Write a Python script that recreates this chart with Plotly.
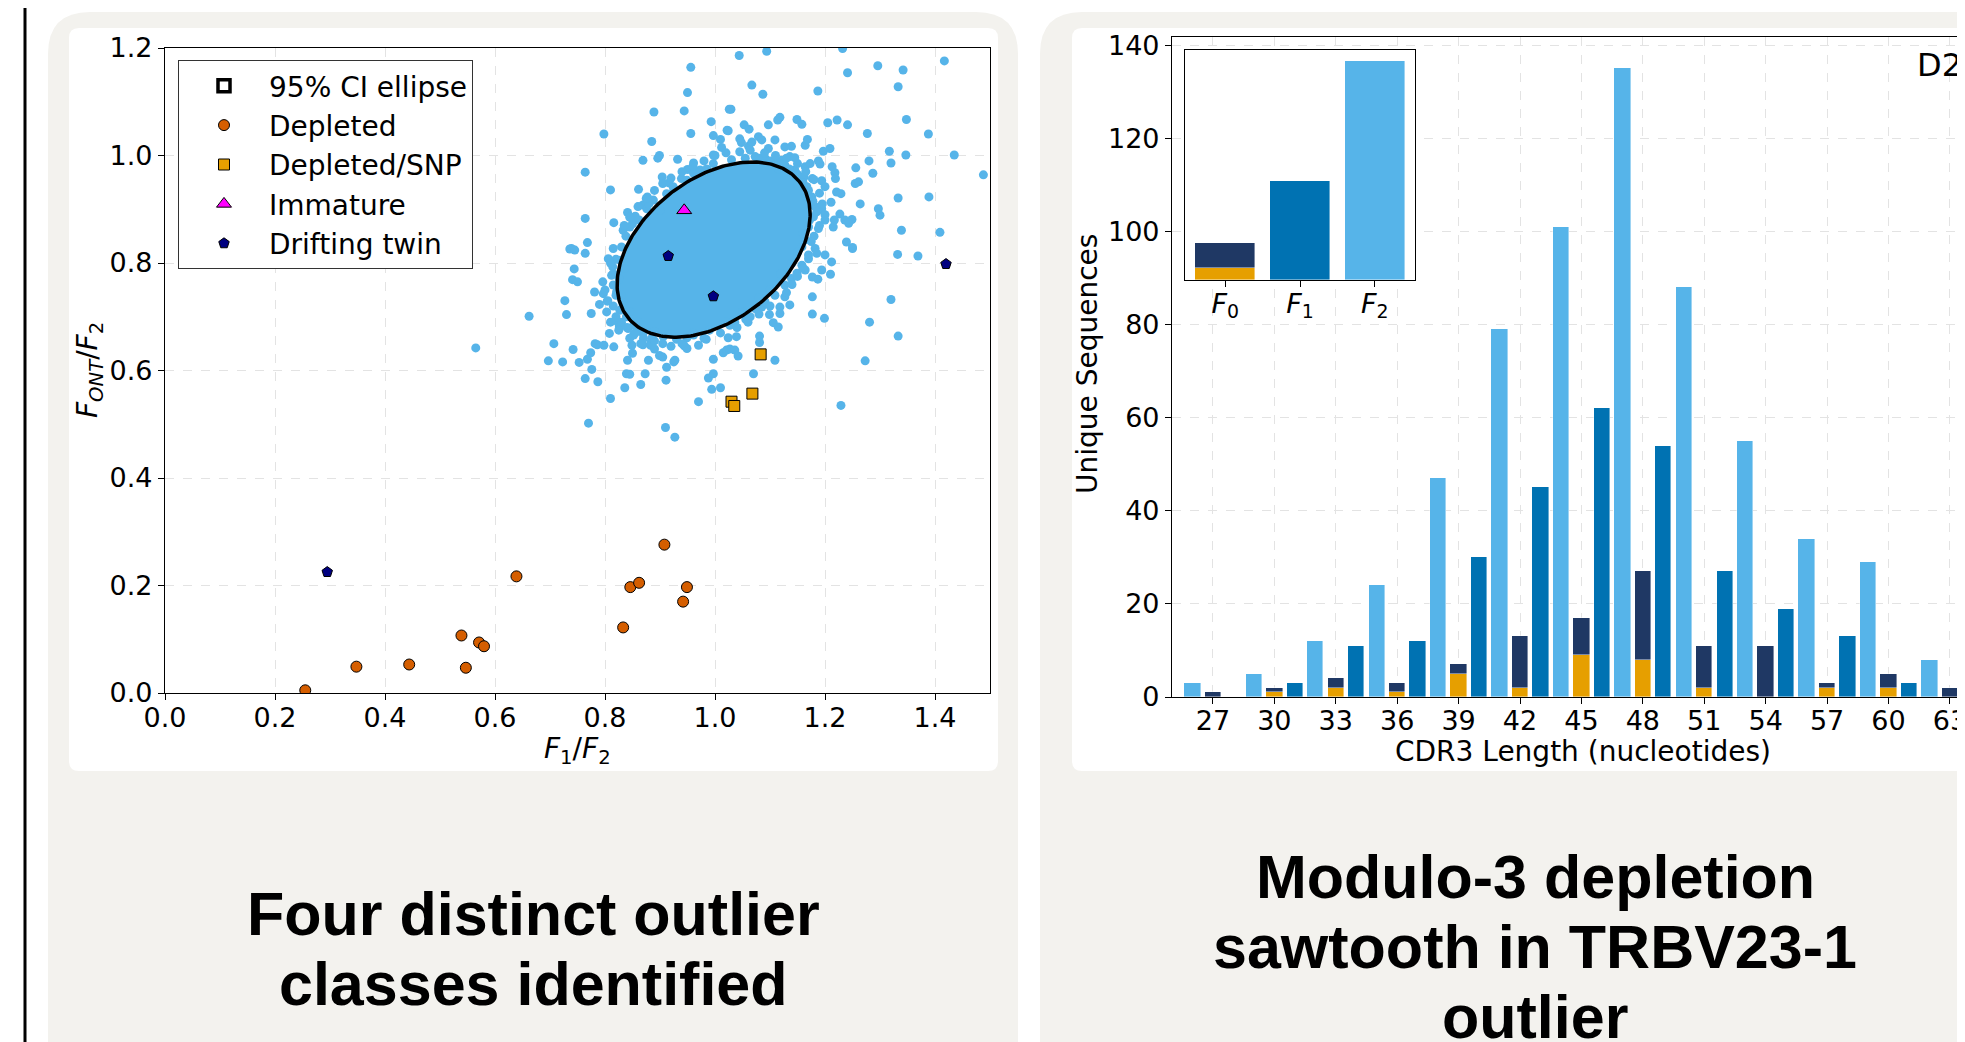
import numpy as np
import plotly.graph_objects as go

W, H = 1965, 1042
OFF = 8  # page body margin of the html page

# ---------------- Scatter data ----------------
cloud_pts = [
    (0.956,1.164),(0.950,1.117),(0.889,1.081),(0.944,1.083),(0.956,1.041),(0.798,1.040),(0.885,1.026),(0.993,1.063),
    (0.997,1.037),(1.010,1.030),(1.012,1.015),(1.026,1.086),(1.022,1.047),(0.869,0.991),(0.899,1.000),(0.896,0.995),
    (0.932,0.993),(0.961,0.986),(0.950,0.974),(0.764,0.969),(0.904,0.960),(0.916,0.949),(0.939,0.957),(0.997,1.001),
    (0.810,0.936),(0.861,0.937),(0.877,0.923),(0.764,0.883),(0.816,0.875),(0.841,0.894),(0.768,0.838),(0.833,0.861),
    (0.739,0.827),(0.855,0.887),(0.869,0.908),(0.888,0.917),(0.900,0.898),(0.845,0.867),(0.876,0.901),(0.912,0.929),
    (0.924,0.942),(0.949,0.954),(0.961,0.967),(0.973,0.973),(0.997,0.985),
    (1.044,1.186),(1.094,1.194),(1.232,1.199),(1.067,1.131),(1.087,1.114),(1.187,1.120),(1.241,1.154),(1.296,1.167),
    (1.342,1.159),(1.333,1.128),(1.417,1.176),(1.029,1.086),(1.024,1.046),(1.053,1.057),(1.062,1.049),(1.097,1.057),
    (1.114,1.066),(1.118,1.071),(1.149,1.067),(1.158,1.058),(1.205,1.061),(1.222,1.066),(1.241,1.057),(1.348,1.067),
    (1.277,1.041),(1.388,1.040),(1.045,1.031),(1.048,1.024),(1.061,1.017),(1.067,1.025),(1.079,1.035),(1.085,1.029),
    (1.045,1.007),(1.064,1.010),(1.097,1.013),(1.109,1.029),(1.127,1.016),(1.139,1.017),(1.164,1.019),(1.168,1.030),
    (1.136,0.998),(1.145,0.996),(1.121,0.991),(1.197,1.008),(1.209,1.013),(1.317,1.008),(1.347,1.001),(1.435,1.001),
    (1.488,0.964),(1.164,0.979),(1.173,0.985),(1.188,0.990),(1.191,0.984),(1.213,0.979),(1.256,0.977),(1.280,0.990),
    (1.320,0.986),(1.287,0.967),(1.218,0.968),(1.219,0.957),(1.162,0.960),(1.177,0.957),(1.194,0.953),(1.200,0.942),
    (1.255,0.948),(1.261,0.951),(1.221,0.932),(1.229,0.929),(1.211,0.913),(1.264,0.910),(1.333,0.921),(1.389,0.923),
    (1.297,0.901),(1.300,0.889),(1.194,0.901),(1.227,0.891),(1.200,0.880),(1.217,0.880),(1.236,0.880),(1.249,0.881),
    (1.243,0.874),(1.188,0.864),(1.215,0.867),(1.339,0.861),(1.409,0.857),(1.239,0.839),(1.250,0.829),(1.182,0.827),
    (1.176,0.923),(1.182,0.905),(1.179,0.886),(1.170,0.867),(1.164,0.843),(1.158,0.830),(1.167,0.942),(1.158,0.960),
    (1.145,0.973),(1.127,0.982),(1.109,0.988),(1.091,0.995),(1.073,0.998),(1.055,0.995),
    (0.736,0.826),(0.745,0.824),(0.764,0.818),(0.815,0.827),(0.806,0.808),(0.820,0.807),(0.814,0.793),(0.744,0.789),
    (0.741,0.769),(0.750,0.765),(0.796,0.765),(0.781,0.746),(0.797,0.743),(0.790,0.723),(0.804,0.729),(0.803,0.709),
    (0.775,0.706),(0.730,0.704),(0.727,0.730),(0.662,0.701),(0.565,0.642),(0.707,0.650),(0.742,0.639),(0.697,0.618),
    (0.723,0.616),(0.753,0.615),(0.768,0.621),(0.774,0.633),(0.782,0.650),(0.786,0.648),(0.798,0.647),(0.816,0.644),
    (0.808,0.669),(0.824,0.689),(0.826,0.681),(0.776,0.602),(0.764,0.585),(0.787,0.579),(0.810,0.548),(0.770,0.502),
    (0.841,0.619),(0.850,0.632),(0.849,0.647),(0.869,0.648),(0.884,0.653),(0.883,0.647),(0.879,0.619),(0.873,0.594),
    (0.839,0.594),(0.845,0.593),(0.836,0.568),(0.865,0.574),(0.899,0.628),(0.905,0.625),(0.912,0.606),(0.925,0.616),
    (0.927,0.619),(0.911,0.582),(0.910,0.494),(0.927,0.476),(0.970,0.647),(0.984,0.658),(0.944,0.646),(0.949,0.641),
    (0.997,0.621),(0.988,0.586),(0.997,0.594),(0.994,0.565),(1.010,0.568),(1.015,0.633),(1.021,0.638),(0.970,0.542),
    (0.852,0.666),(0.869,0.669),(0.885,0.660),(0.906,0.663),(0.930,0.658),(0.949,0.661),(0.961,0.666),(0.827,0.712),
    (0.842,0.678),(0.821,0.746),(0.833,0.722),(0.839,0.700),(0.852,0.684),(0.864,0.675),(0.815,0.759),(0.812,0.777),
    (1.250,0.827),(1.332,0.816),(1.369,0.813),(1.212,0.802),(1.194,0.787),(1.210,0.779),(1.177,0.774),(1.187,0.770),
    (1.164,0.787),(1.149,0.781),(1.139,0.771),(1.170,0.808),(1.185,0.818),(1.200,0.815),(1.177,0.737),(1.177,0.705),
    (1.199,0.697),(1.136,0.722),(1.127,0.737),(1.118,0.718),(1.118,0.706),(1.099,0.704),(1.106,0.689),(1.115,0.681),
    (1.085,0.718),(1.064,0.700),(1.056,0.695),(1.320,0.732),(1.281,0.690),(1.333,0.664),(1.273,0.618),(1.229,0.535),
    (1.081,0.664),(1.081,0.652),(1.109,0.619),(1.039,0.663),(1.024,0.661),(1.027,0.640),(1.036,0.638),(1.042,0.627),
    (1.070,0.594),(1.027,0.684),(1.127,0.759),(1.109,0.740),(1.091,0.728),(1.073,0.715),(1.055,0.706),(1.036,0.690),
    (1.158,0.796),(1.170,0.815),
    (0.835,0.790),(0.828,0.805),(0.830,0.830),(0.838,0.850),(0.850,0.873),(0.862,0.880),(0.880,0.910),(0.925,0.935),
    (0.985,0.975),(1.030,0.992),(1.115,0.975),(1.150,0.945),(1.168,0.905),(1.172,0.880),(1.160,0.855),(1.150,0.820),
    (1.140,0.800),(1.120,0.780),(1.100,0.750),(1.080,0.735),(1.050,0.710),(1.020,0.690),(0.990,0.675),(0.960,0.670),
    (0.920,0.668),(0.890,0.672),(0.860,0.690),(0.845,0.710),(0.830,0.740),(0.826,0.770),
    (1.080,0.995),(1.100,0.990),(1.120,0.985),(1.135,0.975),(1.150,0.965),(1.160,0.950),(1.170,0.935),(1.178,0.915),
    (1.185,0.895),(1.190,0.870),(1.180,0.850),(1.175,0.840),(1.090,1.005),(1.110,1.000),(1.130,0.995),(1.150,0.985),
    (1.165,0.970),(1.180,0.955),(1.190,0.930),(1.195,0.910),(1.200,0.890),
    (0.820,0.740),(0.815,0.720),(0.820,0.700),(0.830,0.690),(0.840,0.680),(0.855,0.670),(0.870,0.660),(0.890,0.655),
    (0.905,0.650),(0.815,0.780),(0.810,0.800),(0.800,0.750),(0.805,0.730),(0.810,0.690),(0.825,0.675),(0.845,0.660),
    (0.865,0.650),(0.890,0.640),(0.920,0.645),(0.940,0.650),
    (0.860,0.905),(0.875,0.920),(0.890,0.935),(0.905,0.948),(0.920,0.958),(0.940,0.970),(0.960,0.980),(0.980,0.990),
    (1.000,1.000),(1.020,1.005),(0.845,0.885),(0.835,0.870),
    (1.130,0.745),(1.140,0.760),(1.150,0.775),(1.160,0.790),(1.100,0.720),(1.080,0.705),(1.060,0.690),(1.040,0.680),
    (1.010,0.670),(0.980,0.660),
]
cloud_x = [p[0] for p in cloud_pts]
cloud_y = [p[1] for p in cloud_pts]

depleted_x = [0.255, 0.348, 0.444, 0.539, 0.547, 0.571, 0.580, 0.639, 0.833, 0.846, 0.862, 0.908, 0.949, 0.942]
depleted_y = [0.005, 0.049, 0.053, 0.107, 0.047, 0.094, 0.087, 0.217, 0.122, 0.197, 0.205, 0.276, 0.197, 0.170]
snp_x = [1.083, 1.068, 1.030, 1.035]
snp_y = [0.630, 0.557, 0.542, 0.534]
immature_x = [0.944]
immature_y = [0.898]
twin_x = [0.295, 0.915, 0.997, 1.420]
twin_y = [0.225, 0.813, 0.738, 0.798]

# 95% CI ellipse parameters of the bulk distribution
ell_center = (0.9975, 0.825)
ell_sd = (0.0717, 0.0666)
ell_rho = 0.40
chi2_95 = 5.991

# ---------------- Bar data ----------------
cdr3_len = list(range(26, 64))
unique_seqs = [3, 1, 0, 5, 2, 3, 12, 4, 11, 24, 3, 12, 47, 7, 30, 79, 13, 45, 101, 17, 62, 135,
               27, 54, 88, 11, 27, 55, 11, 19, 34, 3, 13, 29, 5, 3, 8, 2]
f0_orange = {27: 0, 30: 1, 33: 2, 36: 1, 39: 5, 42: 2, 45: 9, 48: 8, 51: 2, 54: 0, 57: 2, 60: 2, 63: 0}
inset_labels = ["<i>F</i><sub>0</sub>", "<i>F</i><sub>1</sub>", "<i>F</i><sub>2</sub>"]
bar_ticks = list(range(27, 64, 3))

C_LIGHT = "#56B4E9"
C_MED = "#0072B2"
C_NAVY = "#1F3864"
C_ORANGE = "#E69F00"
FONT = "DejaVu Sans"
FS = 27

def px(x):
    return (x - OFF) / W

def py(y):
    return 1 - (y - OFF) / H

fig = go.Figure()

cov = np.array([[ell_sd[0]**2, ell_rho*ell_sd[0]*ell_sd[1]],
                [ell_rho*ell_sd[0]*ell_sd[1], ell_sd[1]**2]])
vals, vecs = np.linalg.eigh(cov)
t = np.linspace(0, 2*np.pi, 240)
circ = np.stack([np.cos(t), np.sin(t)])
pts = vecs @ (np.sqrt(vals*chi2_95)[:, None] * circ)
ex = ell_center[0] + pts[0]
ey = ell_center[1] + pts[1]
core = vecs @ (np.sqrt(vals*chi2_95*1.03)[:, None] * circ)

fig.add_trace(go.Scatter(x=ell_center[0]+core[0], y=ell_center[1]+core[1], mode="lines",
                         fill="toself", fillcolor=C_LIGHT, line=dict(width=0, color=C_LIGHT),
                         showlegend=False, hoverinfo="skip", xaxis="x", yaxis="y"))
fig.add_trace(go.Scatter(x=cloud_x, y=cloud_y, mode="markers",
                         marker=dict(size=9, color=C_LIGHT, line=dict(width=0)),
                         showlegend=False, xaxis="x", yaxis="y"))
fig.add_trace(go.Scatter(x=ex, y=ey, mode="lines", name="95% CI ellipse",
                         line=dict(color="black", width=3.5), showlegend=False,
                         xaxis="x", yaxis="y"))
fig.add_trace(go.Bar(x=[None], y=[None], name="95% CI ellipse",
                     marker=dict(color="white", line=dict(color="black", width=3.5)),
                     legendgroup="a", legendrank=1, xaxis="x", yaxis="y"))
mk_line = dict(color="black", width=1)
fig.add_trace(go.Scatter(x=depleted_x, y=depleted_y, mode="markers", name="Depleted",
                         marker=dict(symbol="circle", size=11, color="#D55E00", line=mk_line),
                         legendgroup="b", legendrank=2, xaxis="x", yaxis="y"))
fig.add_trace(go.Scatter(x=snp_x, y=snp_y, mode="markers", name="Depleted/SNP",
                         marker=dict(symbol="square", size=11, color=C_ORANGE, line=mk_line),
                         legendgroup="c", legendrank=3, xaxis="x", yaxis="y"))
fig.add_trace(go.Scatter(x=immature_x, y=immature_y, mode="markers", name="Immature",
                         marker=dict(symbol="triangle-up", size=13, color="#FF00FF", line=mk_line),
                         legendgroup="d", legendrank=4, xaxis="x", yaxis="y"))
fig.add_trace(go.Scatter(x=twin_x, y=twin_y, mode="markers", name="Drifting twin",
                         marker=dict(symbol="pentagon", size=11, color="#000080", line=mk_line),
                         legendgroup="e", legendrank=5, xaxis="x", yaxis="y"))

frame = [L % 3 for L in cdr3_len]
f2_x = [L for L, f in zip(cdr3_len, frame) if f == 2]
f2_y = [v for v, f in zip(unique_seqs, frame) if f == 2]
f1_x = [L for L, f in zip(cdr3_len, frame) if f == 1]
f1_y = [v for v, f in zip(unique_seqs, frame) if f == 1]
f0_x = [L for L, f in zip(cdr3_len, frame) if f == 0]
f0_tot = [v for v, f in zip(unique_seqs, frame) if f == 0]
f0_or = [f0_orange[L] for L in f0_x]
f0_rest = [a - b for a, b in zip(f0_tot, f0_or)]

bl = dict(color="rgba(255,255,255,0.7)", width=0.6)
fig.add_trace(go.Bar(x=f2_x, y=f2_y, width=0.8, marker=dict(color=C_LIGHT, line=bl),
                     showlegend=False, xaxis="x2", yaxis="y2"))
fig.add_trace(go.Bar(x=f1_x, y=f1_y, width=0.8, marker=dict(color=C_MED, line=bl),
                     showlegend=False, xaxis="x2", yaxis="y2"))
fig.add_trace(go.Bar(x=f0_x, y=f0_or, width=0.8, marker=dict(color=C_ORANGE, line=bl),
                     showlegend=False, xaxis="x2", yaxis="y2"))
fig.add_trace(go.Bar(x=f0_x, y=f0_rest, width=0.8, marker=dict(color=C_NAVY, line=bl),
                     showlegend=False, xaxis="x2", yaxis="y2"))

tot_f0 = sum(f0_tot)
tot_or = sum(f0_or)
tot_f1 = sum(f1_y)
tot_f2 = sum(f2_y)
fig.add_trace(go.Bar(x=[0], y=[tot_or], width=0.8, marker=dict(color=C_ORANGE, line=bl),
                     showlegend=False, xaxis="x3", yaxis="y3"))
fig.add_trace(go.Bar(x=[0, 1, 2], y=[tot_f0 - tot_or, tot_f1, tot_f2], width=0.8,
                     marker=dict(color=[C_NAVY, C_MED, C_LIGHT], line=bl),
                     showlegend=False, xaxis="x3", yaxis="y3"))

axis_common = dict(showline=True, linecolor="black", linewidth=1.2, ticks="outside",
                   ticklen=6, tickwidth=1.2, tickcolor="black", automargin=False,
                   tickfont=dict(family=FONT, size=FS, color="black"), zeroline=False)
grid = dict(gridcolor="#e3e3e3", griddash="dash", gridwidth=1, showgrid=True)

fig.update_layout(
    width=W, height=H, margin=dict(l=0, r=0, t=0, b=0, autoexpand=False),
    paper_bgcolor="white", plot_bgcolor="white",
    barmode="stack", bargap=0,
    font=dict(family=FONT, color="black"),
    xaxis=dict(domain=[px(165), px(990)], range=[0, 1.5], tickvals=[0, 0.2, 0.4, 0.6, 0.8, 1.0, 1.2, 1.4],
               tickformat=".1f", mirror=True, anchor="y", ticklabelstandoff=-6, **axis_common, **grid),
    yaxis=dict(domain=[py(693), py(48)], range=[0, 1.2], tickvals=[0, 0.2, 0.4, 0.6, 0.8, 1.0, 1.2],
               tickformat=".1f", mirror=True, anchor="x", **axis_common, **grid),
    xaxis2=dict(domain=[px(1172), px(1972)], range=[25.0, 64.08], tickvals=bar_ticks, mirror=True,
                ticklabeloverflow="allow", ticklabelstandoff=-7, anchor="y2", **axis_common, **grid),
    yaxis2=dict(domain=[py(697), py(37)], range=[0, 141.75], tickvals=list(range(0, 141, 20)),
                mirror=False, anchor="x2", **axis_common, **grid),
    xaxis3=dict(domain=[px(1185), px(1415)], range=[-0.54, 2.54], tickvals=[0, 1, 2],
                ticktext=inset_labels, mirror=True, showgrid=False, anchor="y3",
                ticklabelstandoff=-7, **axis_common),
    yaxis3=dict(domain=[py(280), py(50)], range=[0, 1.05*tot_f2], showticklabels=False, ticks="",
                showline=True, linecolor="black", linewidth=1.2, mirror=True, showgrid=False,
                zeroline=False, anchor="x3", automargin=False),
    legend=dict(x=px(178), y=py(60), xanchor="left", yanchor="top", bgcolor="white",
                bordercolor="#333333", borderwidth=1, font=dict(family=FONT, size=28, color="black"),
                tracegroupgap=20, itemwidth=80, traceorder="normal"),
)

def rrect(x0, y0, x1, y1, r):
    def P(x, y):
        return f"{px(x):.5f},{py(y):.5f}"
    return (f"M {P(x0 + r, y0)} L {P(x1 - r, y0)} Q {P(x1, y0)} {P(x1, y0 + r)} "
            f"L {P(x1, y1 - r)} Q {P(x1, y1)} {P(x1 - r, y1)} L {P(x0 + r, y1)} "
            f"Q {P(x0, y1)} {P(x0, y1 - r)} L {P(x0, y0 + r)} Q {P(x0, y0)} {P(x0 + r, y0)} Z")

shapes = [
    dict(type="line", xref="paper", yref="paper", x0=px(25), x1=px(25), y0=py(-20), y1=py(1100),
         line=dict(color="black", width=3), layer="below"),
    dict(type="path", xref="paper", yref="paper", path=rrect(48, 12, 1018, 1120, 42),
         fillcolor="#F3F2EE", line=dict(width=0), layer="below"),
    dict(type="path", xref="paper", yref="paper", path=rrect(1040, 12, 2020, 1120, 42),
         fillcolor="#F3F2EE", line=dict(width=0), layer="below"),
    dict(type="path", xref="paper", yref="paper", path=rrect(69, 28, 998, 771, 10),
         fillcolor="white", line=dict(width=0), layer="below"),
    dict(type="path", xref="paper", yref="paper", path=rrect(1072, 28, 2000, 771, 10),
         fillcolor="white", line=dict(width=0), layer="below"),
]
fig.update_layout(shapes=shapes)

ann = []
def A(x, y, text, size=FS, angle=0, xanchor="center", family=FONT):
    ann.append(dict(x=px(x), y=py(y), xref="paper", yref="paper", text=text, showarrow=False,
                    textangle=angle, xanchor=xanchor, yanchor="middle",
                    font=dict(family=family, size=size, color="black")))

A(577, 750, "<i>F</i><sub>1</sub>/<i>F</i><sub>2</sub>", size=28)
A(89, 370, "<i>F</i><sub><i>ONT</i></sub>/<i>F</i><sub>2</sub>", size=28, angle=-90)
A(1088, 364, "Unique Sequences", size=28, angle=-90)
A(1583, 752, "CDR3 Length (nucleotides)", size=28)
A(1915, 65, "D2", size=32, xanchor="left")
TF = "Liberation Sans"
A(533, 914, "<b>Four distinct outlier</b>", size=61, family=TF)
A(533, 984, "<b>classes identified</b>", size=61, family=TF)
A(1535, 877, "<b>Modulo-3 depletion</b>", size=61, family=TF)
A(1535, 947, "<b>sawtooth in TRBV23-1</b>", size=61, family=TF)
A(1535, 1017, "<b>outlier</b>", size=61, family=TF)
fig.update_layout(annotations=ann)

fig.write_html("out.html")
